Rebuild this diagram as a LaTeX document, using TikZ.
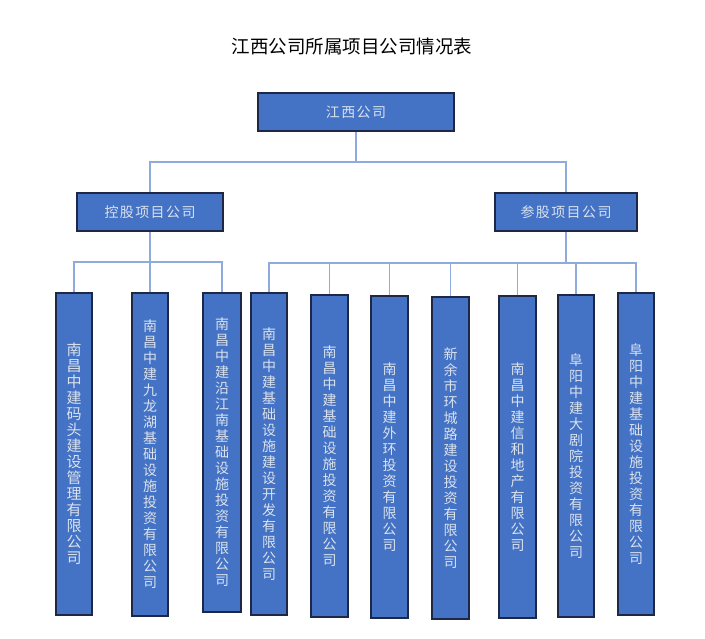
\documentclass[tikz,border=0pt]{standalone}
\usepackage{fontspec}
\setmainfont{Noto Sans CJK SC}
\definecolor{boxblue}{RGB}{68,114,196}
\definecolor{boxedge}{RGB}{30,40,70}
\definecolor{linkblue}{RGB}{143,170,220}
\definecolor{boxtext}{RGB}{218,226,238}
\tikzset{
  hbox/.style={draw=boxedge, line width=1.1pt, fill=boxblue, text=boxtext, inner sep=0pt,
    font={\fontsize{14}{16}\selectfont\addfontfeature{LetterSpace=10}}},
  leaf/.style={draw=boxedge, line width=1.1pt, fill=boxblue, text=boxtext, inner sep=0pt,
    align=center, font={\fontsize{14}{16}\selectfont}},
  bigleaf/.style={leaf, font={\fontsize{15}{16}\selectfont}},
  conn/.style={draw=linkblue, line width=1.3pt}
}
\begin{document}
\begin{tikzpicture}[x=1pt,y=-1pt]
\useasboundingbox (0,0) rectangle (705,639);
% title
\node[font={\fontsize{18.5}{22}\selectfont}, text=black] (title) at (352,46) {江西公司所属项目公司情况表};
% top levels
\node[hbox, minimum width=196pt, minimum height=38pt] (root) at (356,112) {江西公司};
\node[hbox, minimum width=146pt, minimum height=38pt] (ctrl) at (150,212) {控股项目公司};
\node[hbox, minimum width=142pt, minimum height=38pt] (part) at (566,212) {参股项目公司};
% buses
\coordinate (bus0) at (356,162);
\coordinate (bus1) at (150,262);
\coordinate (bus2) at (566,263);
% leaves
\node[bigleaf, minimum width=36pt, minimum height=322pt] (L1) at (74,454)
  {南\\昌\\中\\建\\码\\头\\建\\设\\管\\理\\有\\限\\公\\司};
\node[leaf, minimum width=36pt, minimum height=323pt] (L2) at (150,454.5)
  {南\\昌\\中\\建\\九\\龙\\湖\\基\\础\\设\\施\\投\\资\\有\\限\\公\\司};
\node[leaf, minimum width=38pt, minimum height=319pt] (L3) at (222,452.5)
  {南\\昌\\中\\建\\沿\\江\\南\\基\\础\\设\\施\\投\\资\\有\\限\\公\\司};
\node[leaf, minimum width=36pt, minimum height=322pt] (L4) at (269,454)
  {南\\昌\\中\\建\\基\\础\\设\\施\\建\\设\\开\\发\\有\\限\\公\\司};
\node[leaf, minimum width=37pt, minimum height=322pt] (L5) at (329.5,456)
  {南\\昌\\中\\建\\基\\础\\设\\施\\投\\资\\有\\限\\公\\司};
\node[leaf, minimum width=37pt, minimum height=322pt] (L6) at (389.5,457)
  {南\\昌\\中\\建\\外\\环\\投\\资\\有\\限\\公\\司};
\node[leaf, minimum width=37pt, minimum height=322pt] (L7) at (450.5,458)
  {新\\余\\市\\环\\城\\路\\建\\设\\投\\资\\有\\限\\公\\司};
\node[leaf, minimum width=37pt, minimum height=322pt] (L8) at (517.5,457)
  {南\\昌\\中\\建\\信\\和\\地\\产\\有\\限\\公\\司};
\node[leaf, minimum width=36pt, minimum height=322pt] (L9) at (576,456)
  {阜\\阳\\中\\建\\大\\剧\\院\\投\\资\\有\\限\\公\\司};
\node[leaf, minimum width=36pt, minimum height=322pt] (L10) at (636,454)
  {阜\\阳\\中\\建\\基\\础\\设\\施\\投\\资\\有\\限\\公\\司};
% connectors level 1
\draw[conn] (root.south) -- (bus0);
\draw[conn] (ctrl.north) |- (bus0) -| (part.north);
% connectors control
\draw[conn] (ctrl.south) -- (bus1);
\draw[conn] (L1.north) |- (bus1) -| (L3.north);
\draw[conn] (L2.north) -- (L2.north |- bus1);
% connectors participating
\draw[conn] (part.south) -- (bus2);
\draw[conn] (L4.north) |- (bus2) -| (L10.north);
\foreach \n in {L5,L6,L7,L8,L9} {
  \draw[conn] (\n.north) -- (\n.north |- bus2);
}
\end{tikzpicture}
\end{document}
